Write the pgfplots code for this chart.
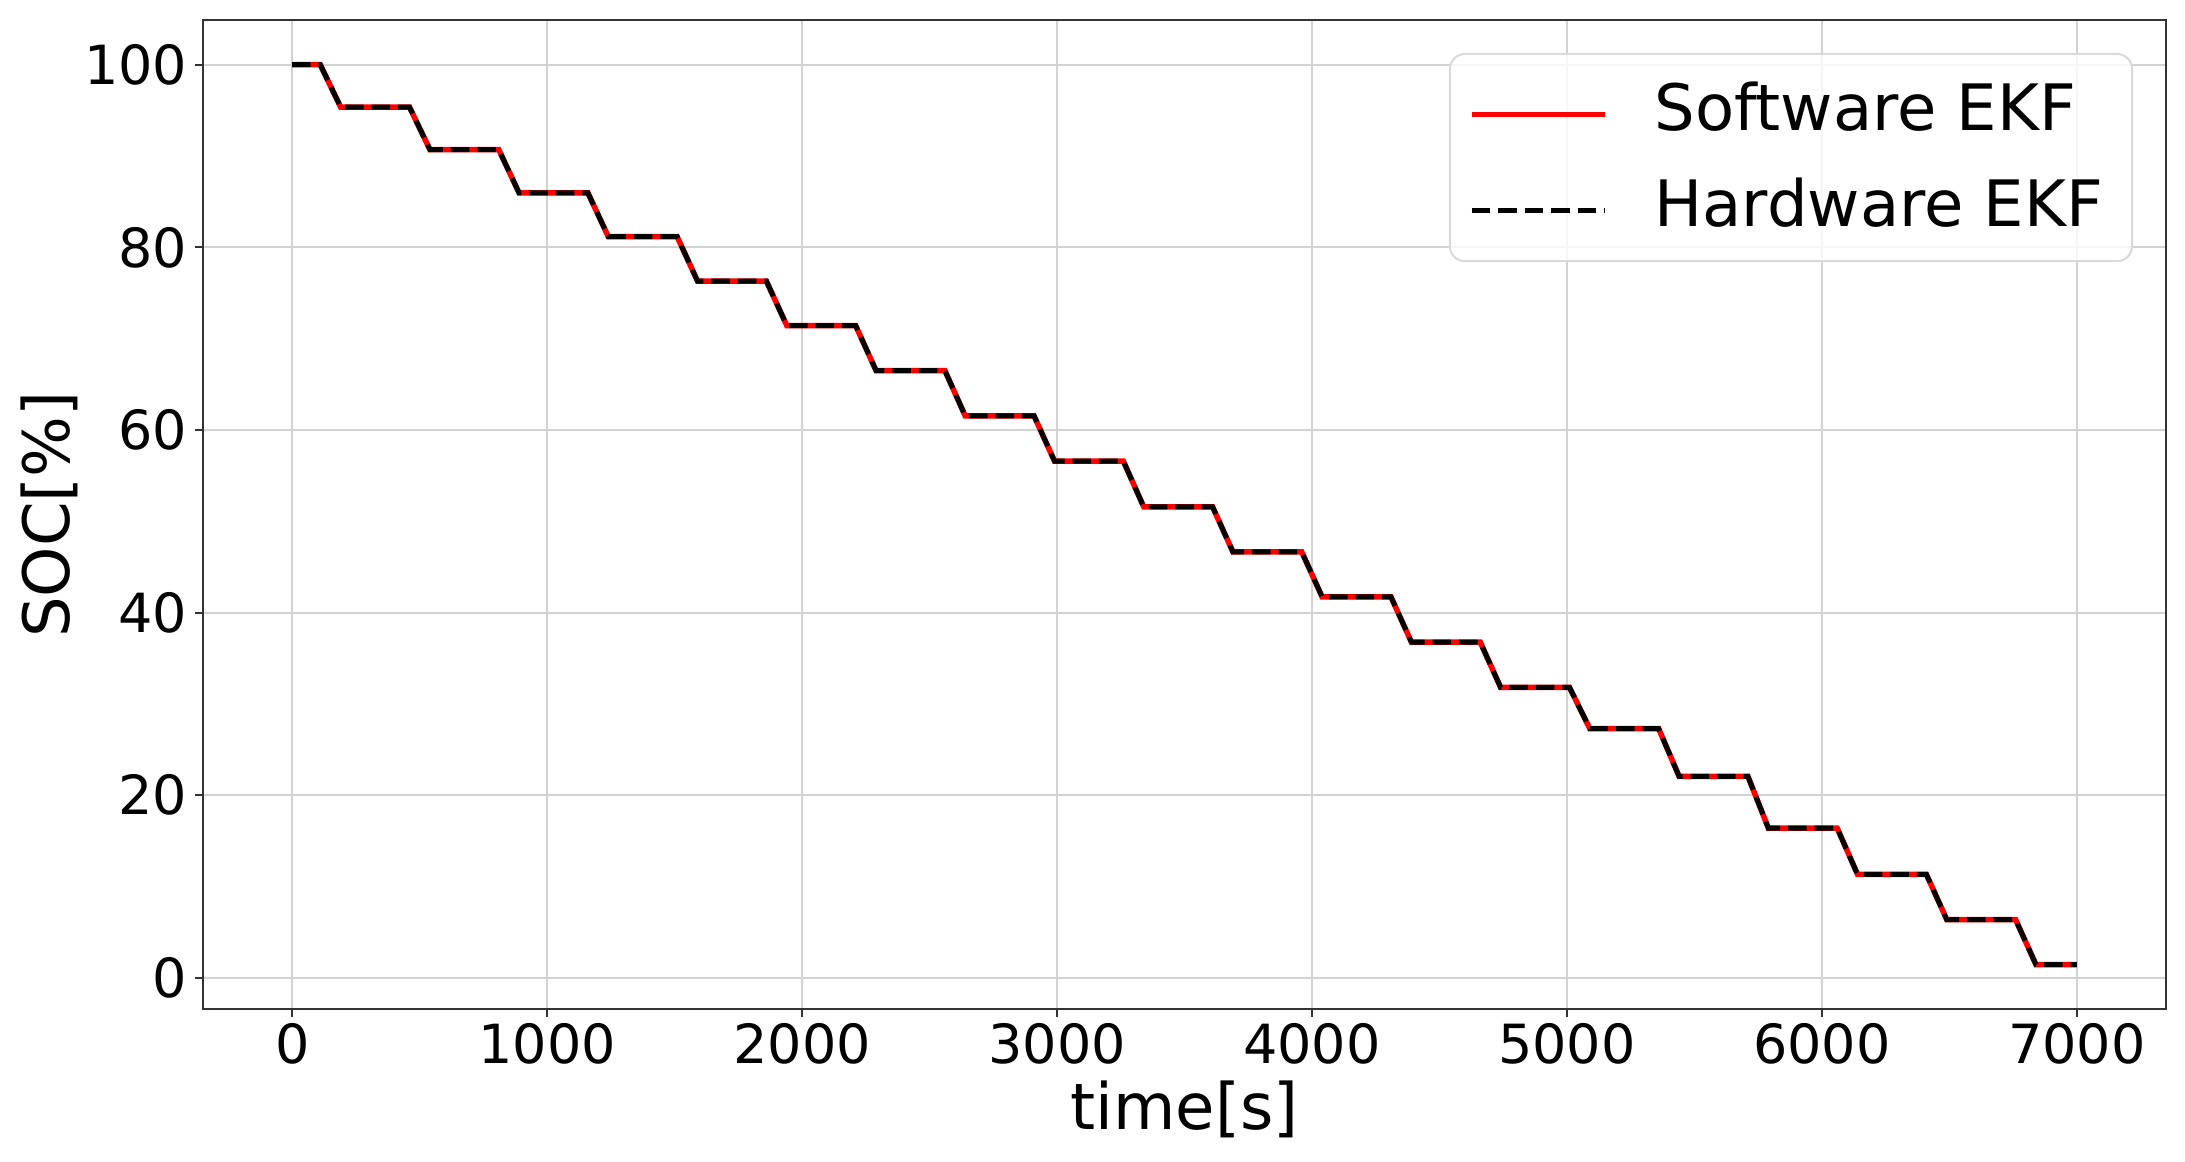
\documentclass[border=0pt]{standalone}
\usepackage{pgfplots}
\pgfplotsset{compat=1.18}
\usepackage{pgfplotstable}
\usepackage{fontspec}
\setmainfont{DejaVu Sans}

% SOC, s / %
\pgfplotstableread{
t    soc
0    100
110  100
190  95.36
460  95.36
540  90.71
810  90.71
890  85.96
1160 85.96
1240 81.17
1510 81.17
1590 76.30
1860 76.30
1940 71.44
2210 71.44
2290 66.51
2560 66.51
2640 61.54
2910 61.54
2990 56.60
3260 56.60
3340 51.59
3610 51.59
3690 46.65
3960 46.65
4040 41.72
4310 41.72
4390 36.78
4660 36.78
4740 31.82
5010 31.82
5090 27.30
5360 27.30
5440 22.08
5710 22.08
5790 16.42
6060 16.42
6140 11.35
6410 11.35
6490 6.39
6760 6.39
6840 1.46
7000 1.46
}\soctable

\begin{document}
\begin{tikzpicture}
\begin{axis}[
  scale only axis,
  width=392.6pt, height=197.8pt,
  xmin=-350, xmax=7350,
  ymin=-3.4, ymax=104.9,
  xtick={0,1000,...,7000},
  ytick={0,20,...,100},
  xtick pos=bottom, ytick pos=left,
  scaled x ticks=false,
  /pgf/number format/set thousands separator={},
  /pgf/number format/assume math mode=true,
  tick label style={font=\fontsize{10.8}{12}\selectfont},
  xticklabel style={yshift=2.2pt},
  yticklabel style={xshift=2pt},
  label style={font=\fontsize{12.8}{15}\selectfont},
  xlabel={time[s]}, ylabel={SOC[\%]},
  xlabel style={yshift=3.6pt},
  ylabel style={yshift=-5.6pt},
  grid=major,
  major grid style={gray!35, line width=0.4pt},
  tick align=outside,
  major tick length=1.6pt,
  tick style={black!80, line width=0.4pt},
  axis line style={black!80, line width=0.5pt},
  legend cell align=left,
  legend style={
    at={(1,1)}, anchor=north east, xshift=-6.6pt, yshift=-6.6pt,
    font=\fontsize{12.8}{15}\selectfont,
    draw=gray!30, rounded corners=3pt,
    fill=white, fill opacity=0.8, text opacity=1,
    inner xsep=3.8pt, inner ysep=3.5pt, row sep=4pt,
  },
  legend image code/.code={
    \draw[#1] (0pt,-1pt) -- (26.6pt,-1pt);
    \path (34pt,0pt);
  },
]
\addplot[red, line width=1.1pt] table[x=t, y=soc] {\soctable};
\addlegendentry{Software EKF\hspace{3.7pt}}
\addplot[black, line width=1pt, dash pattern=on 3.7pt off 1.6pt] table[x=t, y=soc] {\soctable};
\addlegendentry{Hardware EKF\hspace{3.7pt}}
\end{axis}
\path (current axis.south west) ++(-40.6pt,-30.4pt);
\path (current axis.north east) ++(3.8pt,4pt);
\end{tikzpicture}
\end{document}
